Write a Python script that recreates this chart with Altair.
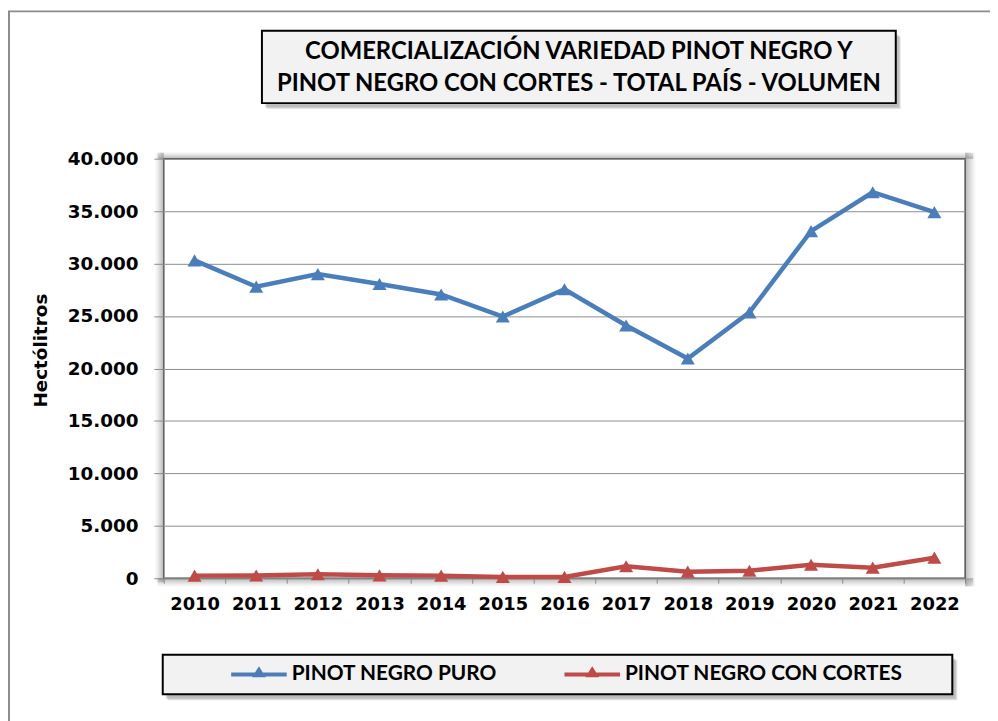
import altair as alt
import pandas as pd

years = ["2010", "2011", "2012", "2013", "2014", "2015", "2016",
         "2017", "2018", "2019", "2020", "2021", "2022"]
puro = [30300, 27800, 29000, 28050, 27050, 24950, 27550,
        24100, 20950, 25350, 33100, 36800, 34900]
cortes = [250, 260, 380, 280, 250, 130, 130,
          1140, 630, 720, 1290, 1010, 1960]
series_names = ["PINOT NEGRO PURO", "PINOT NEGRO CON CORTES"]
series_colors = ["#4A7EBB", "#BE4B48"]
title_lines = ["COMERCIALIZACIÓN VARIEDAD PINOT NEGRO  Y",
               "PINOT NEGRO CON CORTES - TOTAL PAÍS - VOLUMEN"]
y_title = "Hectólitros"
y_ticks = [0, 5000, 10000, 15000, 20000, 25000, 30000, 35000, 40000]

rows = []
for name, vals in zip(series_names, [puro, cortes]):
    for yr, v in zip(years, vals):
        rows.append({"Año": yr, "Serie": name, "Valor": v})
df = pd.DataFrame(rows)

W, H = 808, 423
PADL, PADT = 157, 149
PADR, PADB = 990 - PADL - W, 713 - PADT - H

AXIS_FONT = "DejaVu Sans"
NARROW = "Lato"

one = pd.DataFrame({"k": [0]})

def box(x, x2, y, y2, **kw):
    return alt.Chart(one).mark_rect(**kw).encode(
        x=alt.value(x), x2=alt.value(x2), y=alt.value(y), y2=alt.value(y2))

def gradient_strip(x, x2, y, y2, horizontal, reverse):
    stops = [alt.GradientStop(offset=0, color="rgba(120,120,120,0.55)"),
             alt.GradientStop(offset=1, color="rgba(160,160,160,0)")]
    if horizontal:
        g = alt.LinearGradient(gradient="linear", stops=stops,
                               x1=1 if reverse else 0, x2=0 if reverse else 1, y1=0, y2=0)
    else:
        g = alt.LinearGradient(gradient="linear", stops=stops,
                               x1=0, x2=0, y1=1 if reverse else 0, y2=0 if reverse else 1)
    return box(x, x2, y, y2, fill=g)

# outer frame
outer = box(-PADL + 1, W + PADR + 40, -PADT + 0.5, H + PADB + 40,
            fill="transparent", stroke="#8c8c8c", strokeWidth=2)

# plot area shadows (outside only)
shadows = [
    gradient_strip(-9, 0, -6, H + 4, horizontal=True, reverse=True),
    gradient_strip(W, W + 11, -6, H + 8, horizontal=True, reverse=False),
    gradient_strip(-6, W + 8, -7, 0, horizontal=False, reverse=True),
    gradient_strip(-6, W + 8, H, H + 9, horizontal=False, reverse=False),
]

# title box
tb_x, tb_x2, tb_y, tb_y2 = 264 - 8 - PADL, 903 - 8 - PADL, 28 - 8 - PADT, 101 - 8 - PADT
title_shadow = [box(tb_x + 3 + i, tb_x2 + 3 + i, tb_y + 4 + i, tb_y2 + 4 + i,
                    fill="#7f7f7f", opacity=0.22) for i in range(3)]
title_box = box(tb_x, tb_x2, tb_y, tb_y2, fill="#F2F2F2", stroke="#000000", strokeWidth=2)
title_text = [
    alt.Chart(one).mark_text(font=NARROW, fontWeight="bold", fontSize=24,
                             color="#000000", align="center", baseline="middle").encode(
        x=alt.value((tb_x + tb_x2) / 2), y=alt.value(yy), text=alt.value(t))
    for t, yy in zip(title_lines, [50 - 8 - PADT, 82 - 8 - PADT])
]

# legend box
lb_x, lb_x2, lb_y, lb_y2 = 164 - 8 - PADL, 960 - 8 - PADL, 657 - 8 - PADT, 697 - 8 - PADT
legend_shadow = [box(lb_x + 3 + i, lb_x2 + 3 + i, lb_y + 4 + i, lb_y2 + 4 + i,
                     fill="#7f7f7f", opacity=0.22) for i in range(3)]
legend_box = box(lb_x, lb_x2, lb_y, lb_y2, fill="#F2F2F2", stroke="#000000", strokeWidth=2)

color_scale = alt.Scale(domain=series_names, range=series_colors)
x_enc = alt.X("Año:N", sort=years, scale=alt.Scale(type="band", paddingInner=0, paddingOuter=0),
              axis=alt.Axis(title=None, tickBand="extent", grid=False, labelAngle=0,
                            labelFont=AXIS_FONT, labelFontWeight="bold", labelFontSize=18,
                            labelColor="#000000", labelPadding=12,
                            tickSize=5, tickColor="#8c8c8c", domainColor="#8c8c8c"))
y_enc = alt.Y("Valor:Q", scale=alt.Scale(domain=[0, 40000], nice=False),
              axis=alt.Axis(values=y_ticks, title=y_title,
                            labelExpr="replace(format(datum.value, ',d'), ',', '.')",
                            labelFont=AXIS_FONT, labelFontWeight="bold", labelFontSize=18.5,
                            labelColor="#000000", labelPadding=16,
                            tickSize=10, tickColor="#8c8c8c", domainColor="#a0a0a0",
                            gridColor="#8c8c8c", gridWidth=1,
                            titleFont=AXIS_FONT, titleFontWeight="bold", titleFontSize=18.5,
                            titleColor="#000000", titleX=-124, titleY=193,
                            titleAngle=270, titleAlign="center", titleBaseline="middle"))

sym_path = ("M-1,-0.07L1,-0.07L1,0.07L-1,0.07Z "
            "M-0.25,0.1L0,-0.3L0.25,0.1Z")

legend = alt.Legend(title=None, orient="none", direction="horizontal",
                    legendX=233 - 8 - PADL, legendY=677 - 8 - PADT - 28,
                    symbolType=sym_path, symbolSize=56 * 56,
                    symbolStrokeWidth=0, symbolOpacity=1,
                    labelFont=NARROW, labelFontWeight="bold",
                    labelFontSize=21, labelColor="#000000",
                    labelOffset=5, columnPadding=68, padding=0,
                    labelLimit=400)
color_enc = alt.Color("Serie:N", scale=color_scale, sort=series_names, legend=legend)

lines = alt.Chart(df).mark_line(strokeWidth=4.5).encode(
    x=x_enc, y=y_enc, color=color_enc)
points = alt.Chart(df).mark_point(shape="triangle-up", filled=True, size=200, opacity=1).encode(
    x=x_enc, y=y_enc, color=color_enc)

chart = alt.layer(
    outer, *shadows, *title_shadow, title_box, *title_text,
    *legend_shadow, legend_box, lines, points
).properties(
    width=W, height=H,
    autosize=alt.AutoSizeParams(type="none"),
    padding={"left": PADL, "top": PADT, "right": PADR, "bottom": PADB},
    background="#FFFFFF",
).configure_view(
    fill="#FFFFFF", stroke="#404040", strokeWidth=1.5
)

chart.save("out.html", embed_options={"renderer": "svg", "actions": False})
